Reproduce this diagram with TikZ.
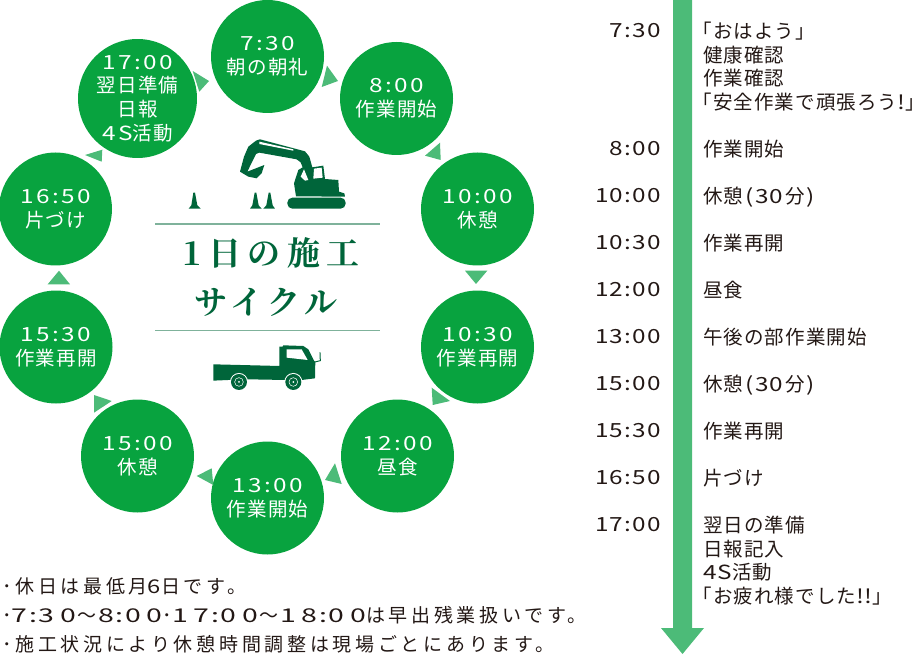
\documentclass[tikz,border=0pt]{standalone}
\usepackage{fontspec}
\setmainfont{Noto Sans CJK JP}[LetterSpace=5.5]
\newfontfamily\headfont{Noto Serif CJK JP}[LetterSpace=15]
\newfontfamily\headwide{Noto Serif CJK JP}[LetterSpace=20]
\newfontfamily\numA{Noto Sans CJK JP}[FakeStretch=1.25,LetterSpace=12]
\newfontfamily\numB{Noto Sans CJK JP}[FakeStretch=1.25,LetterSpace=4]
\newfontfamily\numC{Noto Sans CJK JP}[FakeStretch=1.5,LetterSpace=30]
\newfontfamily\noteCJK{Noto Sans CJK JP}[LetterSpace=19.5]
\newcommand\tA[2]{{\numA #1:#2}}
\newcommand\tB[2]{{\numB #1\kern1.5pt:\kern1.5pt#2}}
\newcommand\tC[2]{{\numC #1\kern1.7pt:\kern1.7pt#2}}
\newcommand\wv{\kern1.5pt～\kern1.5pt}
\newcommand\ob{\kern-10.5pt「}
\newcommand\cb{」\kern-10pt}
\newcommand\brk{\kern2pt{\numB (\kern2pt30\kern2pt}分\kern2pt{\numB )}}
\definecolor{circ}{HTML}{08A33F}
\definecolor{tri}{HTML}{4CBB78}
\definecolor{dark}{HTML}{00653A}
\definecolor{rule}{HTML}{7FB29B}
\definecolor{ink}{HTML}{231815}
\tikzset{
  x=1pt,y=-1pt,
  stepcirc/.style={circle,fill=circ,minimum size=113pt,inner sep=0pt,text=white,align=center,font=\fontsize{19.5}{23.7}\selectfont},
  timetxt/.style={anchor=east,inner sep=0pt,text=ink,font=\fontsize{19.5}{23.6}\selectfont},
  desc/.style={anchor=north west,inner sep=0pt,text=ink,align=left,font=\fontsize{19.5}{23.6}\selectfont},
  note/.style={anchor=west,inner sep=0pt,text=ink,font=\noteCJK\fontsize{19}{23}\selectfont},
  headtxt/.style={text=dark,inner sep=0pt,font=\headfont\fontsize{33}{33}\selectfont\bfseries},
  rulelin/.style={rule,line width=1.2pt},
  marker/.style={fill=tri},
}
\begin{document}
\begin{tikzpicture}
\useasboundingbox (0,0) rectangle (916,655);
% circles
\node[stepcirc] (a) at (267.5,56.5) {\tA{7}{30}\\朝の朝礼};
\node[stepcirc] (b) at (396.5,98.5) {\tA{8}{00}\\作業開始};
\node[stepcirc] (c) at (477.5,209) {\tA{10}{00}\\休憩};
\node[stepcirc] (d) at (477.5,347) {\tA{10}{30}\\作業再開};
\node[stepcirc] (e) at (397.5,456) {\tA{12}{00}\\昼食};
\node[stepcirc] (f) at (267.5,498) {\tA{13}{00}\\作業開始};
\node[stepcirc] (g) at (137.5,456) {\tA{15}{00}\\休憩};
\node[stepcirc] (h) at (56,347) {\tA{15}{30}\\作業再開};
\node[stepcirc] (i) at (55.5,209) {\tA{16}{50}\\片づけ};
\node[stepcirc] (j) at (137.5,98.5) {\tA{17}{00}\\翌日準備\\日報\\{\numA 4S}活動};
% markers
\fill[marker] (321.7,87) -- (327,65.7) -- (338,81) -- cycle;
\fill[marker] (440,142.7) -- (440.7,160) -- (425,155.7) -- cycle;
\fill[marker] (465,270.7) -- (487.3,270.7) -- (476,284) -- cycle;
\fill[marker] (431.7,387.7) -- (450,401) -- (432.7,405) -- cycle;
\fill[marker] (335,463.3) -- (341.7,484) -- (325,480) -- cycle;
\fill[marker] (211.7,468.3) -- (213.3,485) -- (196.7,476) -- cycle;
\fill[marker] (94,395) -- (111.7,401) -- (94,412.7) -- cycle;
\fill[marker] (59,270.7) -- (70,284.3) -- (47.7,284.3) -- cycle;
\fill[marker] (102.3,149.7) -- (101.7,161.7) -- (85,155) -- cycle;
\fill[marker] (192.7,71) -- (209,81) -- (199.3,91.7) -- cycle;
% heading
\draw[rulelin] (155,224) -- (380,224);
\draw[rulelin] (155,330.5) -- (380,330.5);
\node[headtxt] (h1) at (271,253) {\headwide\bfseries 1日の施工};
\node[headtxt] (h2) at (266,302) {サイクル};
% excavator
\begin{scope}[shift={(230,130)},x=0.3333pt,y=-0.3333pt]
  \fill[dark] (78,32) -- (90,28) -- (225,64) -- (238,80) -- (247,112) -- (280,107) -- (285,147) -- (325,150) -- (327,185) -- (343,190) -- (345,200) -- (198,199) -- (192,160) -- (205,120) -- (218,112) -- (212,97) -- (200,88) -- (88,68) -- (78,72) -- (52,125) -- (103,105) -- (95,130) -- (80,145) -- (55,140) -- (30,125) -- (42,80) -- (55,50) -- cycle;
  \fill[white] (88,35) -- (190,58) -- (190,62) -- (88,42) -- cycle;
  \fill[white] (252,116) -- (275,113) -- (278,143) -- (250,146) -- cycle;
  \fill[white] (222,118) -- (235,150) -- (225,152) -- (212,140) -- cycle;
  \fill[dark,rounded corners=5pt] (172,203) rectangle (347,236);
  \fill[dark] (-110,188) -- (-105,188) -- (-98,226) -- (-88,236) -- (-124,236) -- (-116,226) -- cycle;
  \fill[dark] (74,188) -- (79,188) -- (86,226) -- (95,236) -- (60,236) -- (67,226) -- cycle;
  \fill[dark] (116,188) -- (121,188) -- (128,226) -- (135,236) -- (100,236) -- (109,226) -- cycle;
\end{scope}
% truck
\begin{scope}[shift={(140,230)},x=0.3333pt,y=-0.3333pt]
  \fill[dark] (220,403) -- (418,408) -- (418,350) -- (428,350) -- (430,346) -- (490,348) -- (505,358) -- (522,392) -- (526,396) -- (525,445) -- (485,450) -- (435,450) -- (325,448) -- (265,450) -- (220,452) -- cycle;
  \fill[white] (440,358) -- (485,358) -- (503,390) -- (440,383) -- cycle;
  \draw[dark,line width=1pt] (540,367) -- (541,392) -- (525,396);
  \foreach \wx in {297,460}{
    \fill[white] (\wx,456) circle[radius=27];
    \fill[dark] (\wx,456) circle[radius=24];
    \draw[white,line width=.5pt] (\wx,456) circle[radius=13];
    \fill[white] (\wx,456) circle[radius=3];
  }
\end{scope}
% time axis arrow
\fill[tri] (673,0) -- (692,0) -- (692,628) -- (704,628) -- (682.5,654) -- (661,628) -- (673,628) -- cycle;
% schedule
\node[timetxt] (t1) at (661,31) {\tB{7}{30}};
\node[timetxt] (t2) at (661,149) {\tB{8}{00}};
\node[timetxt] (t3) at (661,196) {\tB{10}{00}};
\node[timetxt] (t4) at (661,243) {\tB{10}{30}};
\node[timetxt] (t5) at (661,290) {\tB{12}{00}};
\node[timetxt] (t6) at (661,337) {\tB{13}{00}};
\node[timetxt] (t7) at (661,384) {\tB{15}{00}};
\node[timetxt] (t8) at (661,431) {\tB{15}{30}};
\node[timetxt] (t9) at (661,478) {\tB{16}{50}};
\node[timetxt] (t10) at (661,525) {\tB{17}{00}};
\node[desc] (d1) at (703,22) {\ob おはよう\cb\\健康確認\\作業確認\\\ob 安全作業で頑張ろう{\numB !}\cb};
\node[desc] (d2) at (703,140) {作業開始};
\node[desc] (d3) at (703,187) {休憩\brk};
\node[desc] (d4) at (703,234) {作業再開};
\node[desc] (d5) at (703,281) {昼食};
\node[desc] (d6) at (703,328) {午後の部作業開始};
\node[desc] (d7) at (703,375) {休憩\brk};
\node[desc] (d8) at (703,422) {作業再開};
\node[desc] (d9) at (703,469) {片づけ};
\node[desc] (d10) at (703,516) {翌日の準備\\日報記入\\{\numB 4S}活動\\\ob お疲れ様でした{\numB !!}\cb};
% notes
\node[note] (n1) at (2,586) {･休日は最低月{\numB 6}日です。};
\node[note] (n2) at (2,615) {･\tC{7}{30}\wv\tC{8}{00}･\tC{17}{00}\wv\tC{18}{00}は早出残業扱いです。};
\node[note] (n3) at (2,644) {･施工状況により休憩時間調整は現場ごとにあります。};
\end{tikzpicture}
\end{document}
